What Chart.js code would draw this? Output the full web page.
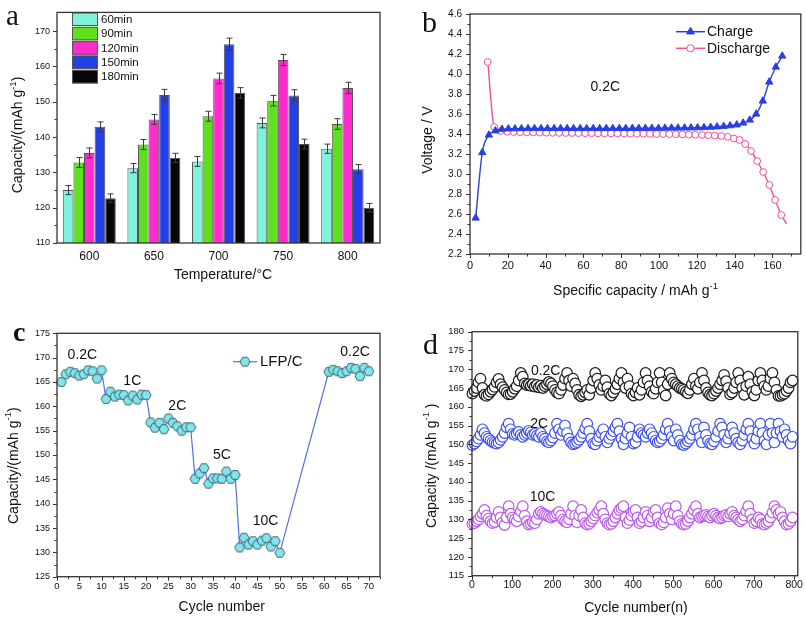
<!DOCTYPE html>
<html><head><meta charset="utf-8">
<script src="https://cdn.jsdelivr.net/npm/chart.js@4.4.1/dist/chart.umd.min.js"></script>
<style>
html,body{margin:0;padding:0;background:#fff;}
#wrap{position:relative;width:806px;height:618px;overflow:hidden;background:#fff;}
canvas{position:absolute;}
</style></head><body>
<div id="wrap">
<canvas id="ca" width="403" height="309" style="left:0;top:0"></canvas>
<canvas id="cb" width="403" height="309" style="left:403px;top:0"></canvas>
<canvas id="cc" width="403" height="309" style="left:0;top:309px"></canvas>
<canvas id="cd" width="403" height="309" style="left:403px;top:309px"></canvas>
</div>
<script>
// ---------------- Panel a data ----------------
const tempLabels = ['600', '650', '700', '750', '800'];
const timeLabels = ['60min', '90min', '120min', '150min', '180min'];
const cap60 = [125.0, 131.2, 133.1, 144.0, 136.7];
const cap90 = [132.8, 137.9, 145.9, 150.3, 143.7];
const cap120 = [135.5, 145.0, 156.6, 161.8, 153.9];
const cap150 = [142.9, 151.9, 166.3, 151.8, 130.9];
const cap180 = [122.7, 134.1, 152.5, 138.0, 120.0];
const err60 = [1.3, 1.3, 1.4, 1.4, 1.3];
const err90 = [1.4, 1.4, 1.4, 1.5, 1.5];
const err120 = [1.4, 1.4, 1.5, 1.6, 1.6];
const err150 = [1.4, 1.6, 1.7, 1.6, 1.3];
const err180 = [1.2, 1.3, 1.5, 1.4, 1.2];
const aYTicks = [110, 120, 130, 140, 150, 160, 170];
const aYMinor = [115, 125, 135, 145, 155, 165];

// ---------------- Panel b data ----------------
const chargeCap = [3.0,6.5,10.0,13.4,16.9,20.3,23.8,27.2,30.7,34.1,37.6,41.0,44.5,47.9,51.4,54.8,58.3,61.7,65.2,68.6,72.1,75.5,79.0,82.4,85.9,89.3,92.8,96.2,99.7,103.1,106.6,110.0,113.5,116.9,120.4,123.8,127.3,130.7,134.2,137.6,141.1,144.5,148.0,151.4,154.9,158.3,161.8,165.2];
const chargeV = [2.56,3.215,3.39,3.432,3.448,3.452,3.453,3.454,3.455,3.455,3.455,3.455,3.455,3.455,3.455,3.455,3.455,3.455,3.455,3.455,3.456,3.456,3.456,3.456,3.457,3.457,3.457,3.458,3.458,3.459,3.46,3.46,3.461,3.462,3.463,3.465,3.468,3.472,3.477,3.483,3.492,3.51,3.54,3.60,3.73,3.92,4.07,4.18];
const dischargeCap = [9.4,12.8,16.2,19.7,23.1,26.5,30.0,33.4,36.8,40.3,43.7,47.1,50.6,54.0,57.4,60.9,64.3,67.7,71.2,74.6,78.0,81.5,84.9,88.3,91.8,95.2,98.6,102.1,105.5,108.9,112.4,115.8,119.2,122.7,126.1,129.5,133.0,136.4,139.6,142.6,145.6,148.7,151.9,155.1,158.3,161.4,164.7,167.5];
const dischargeV = [4.12,3.47,3.43,3.422,3.42,3.418,3.416,3.415,3.414,3.413,3.412,3.411,3.41,3.41,3.409,3.408,3.408,3.407,3.406,3.406,3.405,3.405,3.404,3.403,3.402,3.401,3.40,3.40,3.399,3.398,3.396,3.394,3.392,3.39,3.387,3.384,3.38,3.372,3.355,3.34,3.30,3.23,3.13,3.02,2.89,2.74,2.59,2.50];
const bXTicks = [0, 20, 40, 60, 80, 100, 120, 140, 160];
const bXMinor = [10, 30, 50, 70, 90, 110, 130, 150, 170];
const bYTicks = [2.2, 2.4, 2.6, 2.8, 3.0, 3.2, 3.4, 3.6, 3.8, 4.0, 4.2, 4.4, 4.6];
const bYMinor = [2.3, 2.5, 2.7, 2.9, 3.1, 3.3, 3.5, 3.7, 3.9, 4.1, 4.3, 4.5];

// ---------------- Panel c data ----------------
const rateCycles = [1,2,3,4,5,6,7,8,9,10,11,12,13,14,15,16,17,18,19,20,21,22,23,24,25,26,27,28,29,30,31,32,33,34,35,36,37,38,39,40,41,42,43,44,45,46,47,48,49,50,61,62,63,64,65,66,67,68,69,70];
const rateCap = [165.0,166.6,167.1,166.8,166.3,166.6,167.4,167.2,165.7,167.4,
                 161.5,163.0,162.0,162.4,162.3,161.2,162.2,161.4,162.4,162.3,
                 156.7,155.6,156.6,155.3,157.5,156.6,155.9,155.0,155.7,155.7,
                 145.1,146.2,147.3,144.1,145.2,145.2,145.1,146.6,145.1,145.9,
                 131.0,133.0,131.6,132.3,131.6,132.4,132.9,131.2,132.3,129.9,
                 167.1,167.5,167.2,166.8,167.2,167.9,167.7,166.2,167.9,167.2];
const rateNames = ['0.2C', '1C', '2C', '5C', '10C', '0.2C'];
const cXTicks = [0,5,10,15,20,25,30,35,40,45,50,55,60,65,70];
const cXMinor = [2.5,7.5,12.5,17.5,22.5,27.5,32.5,37.5,42.5,47.5,52.5,57.5,62.5,67.5,72.5];
const cYTicks = [125,130,135,140,145,150,155,160,165,170,175];
const cYMinor = [127.5,132.5,137.5,142.5,147.5,152.5,157.5,162.5,167.5,172.5];

// ---------------- Panel d data ----------------
const cyclesD = [1,6,11,16,21,26,31,36,41,46,51,56,61,66,71,76,81,86,91,96,
  101,106,111,116,121,126,131,136,141,146,151,156,161,166,171,176,181,186,191,196,
  201,206,211,216,221,226,231,236,241,246,251,256,261,266,271,276,281,286,291,296,
  301,306,311,316,321,326,331,336,341,346,351,356,361,366,371,376,381,386,391,396,
  401,406,411,416,421,426,431,436,441,446,451,456,461,466,471,476,481,486,491,496,
  501,506,511,516,521,526,531,536,541,546,551,556,561,566,571,576,581,586,591,596,
  601,606,611,616,621,626,631,636,641,646,651,656,661,666,671,676,681,686,691,696,
  701,706,711,716,721,726,731,736,741,746,751,756,761,766,771,776,781,786,791,796];
const cap02C = [163.5,164.2,165.0,166.5,167.5,165.0,163.2,162.9,163.3,164.0,164.6,165.3,166.5,167.4,166.0,165.2,164.5,163.8,163.3,163.4,
  164.0,164.8,165.5,167.0,169.0,168.0,166.2,165.8,166.0,165.6,166.0,165.4,165.8,165.2,165.6,165.0,165.5,166.0,166.6,166.2,
  165.5,164.5,163.8,163.5,164.5,165.8,167.5,169.0,167.0,165.5,167.5,166.2,164.5,163.2,162.8,163.2,163.8,164.5,163.2,165.0,
  167.0,169.0,167.5,165.8,164.5,165.5,167.0,165.2,163.5,163.0,163.8,164.8,166.0,167.5,169.0,166.5,165.0,167.5,165.5,163.5,
  163.0,163.8,165.0,163.2,164.5,166.5,169.0,167.0,165.5,164.0,163.5,164.8,166.5,169.0,166.5,164.5,163.0,166.0,169.0,167.5,
  166.5,166.0,165.5,165.0,164.8,164.5,164.0,163.6,164.5,166.0,167.5,165.5,164.8,166.5,169.0,167.0,165.0,163.8,163.2,163.0,
  163.5,164.2,165.0,166.0,167.0,168.5,166.8,165.0,163.3,163.8,165.0,166.5,169.0,167.0,165.0,163.2,165.5,168.0,166.0,164.0,
  163.0,164.5,167.0,169.0,167.0,165.5,164.5,165.5,167.5,169.0,166.5,164.5,162.9,162.9,163.2,163.5,164.2,165.0,166.5,167.0];
const cap2C = [149.8,150.2,150.8,151.5,152.5,154.0,153.0,152.0,151.5,151.0,150.6,150.4,150.2,150.5,151.2,152.0,153.0,154.5,155.5,154.0,
  152.8,152.5,152.8,153.3,152.5,152.0,152.5,153.0,153.6,153.2,152.5,152.8,152.3,152.0,153.0,152.0,151.5,150.8,150.5,151.0,
  151.8,153.0,155.5,154.0,152.5,153.5,155.0,153.0,151.5,150.5,150.0,150.2,150.6,151.2,152.0,153.0,154.2,155.5,153.5,151.5,
  150.2,150.0,151.0,152.0,153.0,154.0,152.0,150.5,151.5,152.5,153.5,154.5,155.5,153.5,151.5,150.0,151.5,153.0,154.5,152.0,
  150.2,150.5,152.0,154.0,153.0,152.5,152.0,153.0,154.0,153.0,152.0,151.0,150.5,150.8,151.5,152.5,154.0,155.5,153.5,152.0,
  151.0,154.0,152.5,151.0,150.0,149.8,150.2,150.8,151.5,152.5,154.0,155.5,154.0,152.0,150.5,154.5,152.5,151.0,150.2,150.0,
  150.8,152.0,153.5,155.5,154.5,152.5,150.5,151.5,153.0,154.5,153.0,151.5,150.5,150.0,151.0,152.5,154.0,155.5,153.5,151.5,
  150.2,151.5,153.5,155.5,153.0,151.0,150.0,152.5,155.5,153.0,150.5,153.0,155.5,153.5,152.0,154.0,152.5,151.0,150.2,152.0];
const cap10C = [128.8,129.0,129.5,130.0,130.8,131.5,132.5,131.0,130.2,129.5,129.0,129.3,130.5,132.0,130.5,129.2,128.5,130.5,133.5,131.5,
  130.5,130.0,129.5,130.8,132.2,133.5,131.0,129.5,128.6,128.8,129.2,129.0,130.0,131.5,132.0,131.5,131.2,131.0,130.8,130.5,
  130.8,131.0,131.5,132.0,131.0,130.0,129.5,129.2,130.0,131.5,133.5,131.0,129.2,131.0,132.5,130.5,129.0,128.6,128.8,129.5,
  130.2,131.0,131.8,132.5,133.5,131.5,130.0,129.0,128.6,128.8,129.5,130.5,131.5,132.5,133.0,133.5,130.5,129.0,129.8,131.0,
  132.0,132.5,130.5,129.0,129.5,130.5,132.0,131.0,129.5,130.5,132.0,132.5,130.5,129.0,128.6,129.2,130.5,133.0,131.5,130.0,
  131.5,133.5,131.0,129.5,128.8,128.6,128.8,129.5,130.5,131.5,132.5,133.5,131.5,130.5,130.8,131.0,131.2,130.8,130.5,131.0,
  131.5,131.0,130.5,130.2,130.5,131.0,131.2,130.8,131.5,132.0,131.0,130.5,130.0,129.5,130.0,131.0,132.2,133.5,131.5,130.0,
  129.0,129.5,130.5,130.0,128.8,128.6,129.0,129.5,130.5,131.8,133.5,132.5,131.5,132.0,130.5,129.5,128.6,128.8,129.5,130.5];
const cycleRates = ['0.2C', '2C', '10C'];
const dXTicks = [0,100,200,300,400,500,600,700,800];
const dXMinor = [50,150,250,350,450,550,650,750];
const dYTicks = [115,120,125,130,135,140,145,150,155,160,165,170,175,180];
const dYMinor = [117.5,122.5,127.5,132.5,137.5,142.5,147.5,152.5,157.5,162.5,167.5,172.5,177.5];

// ---------------- helpers ----------------
const SANS = '"Liberation Sans", Arial, Helvetica, sans-serif';
const SERIF = '"Liberation Serif", "Times New Roman", serif';
Chart.defaults.font.family = SANS;
Chart.defaults.color = '#111';
Chart.defaults.animation = false;
const AXIS = '#333';

function zip(xs, ys) { const n = Math.min(xs.length, ys.length); const out = []; for (let i = 0; i < n; i++) out.push({x: xs[i], y: ys[i]}); return out; }

function drawRich(ctx, it) {
  const size = it.size || 14, fam = it.family || SANS, wt = it.weight || 'normal';
  ctx.save();
  ctx.translate(it.x, it.y);
  if (it.rot) ctx.rotate(it.rot);
  ctx.fillStyle = it.color || '#111';
  ctx.textBaseline = it.baseline || 'middle';
  ctx.textAlign = 'left';
  const fontFor = sup => `${wt} ${sup ? size * 0.68 : size}px ${fam}`;
  const widths = it.parts.map(p => { const sup = p[0] === '^'; ctx.font = fontFor(sup); return ctx.measureText(sup ? p.slice(1) : p).width; });
  const total = widths.reduce((a, b) => a + b, 0);
  let cx = it.align === 'left' ? 0 : -total / 2;
  it.parts.forEach((p, i) => { const sup = p[0] === '^'; ctx.font = fontFor(sup); ctx.fillText(sup ? p.slice(1) : p, cx, sup ? -size * 0.38 : 0); cx += widths[i]; });
  ctx.restore();
}

function textPlugin(items) {
  return { id: 'texts', afterDraw(chart) {
    items.forEach(it => {
      const o = Object.assign({}, it);
      if (it.data) { o.x = chart.scales.x.getPixelForValue(it.data[0]); o.y = chart.scales.y.getPixelForValue(it.data[1]); }
      drawRich(chart.ctx, o);
    });
  }};
}

function framePlugin(t) {
  return { id: 'frame', afterDraw(chart) {
    const {ctx, chartArea: a} = chart;
    ctx.save();
    ctx.strokeStyle = AXIS; ctx.lineWidth = 1.3;
    ctx.strokeRect(a.left, a.top, a.right - a.left, a.bottom - a.top);
    ctx.lineWidth = 1;
    const dt = (axis, vals, len) => {
      const s = chart.scales[axis]; if (!s || !vals) return;
      ctx.beginPath();
      vals.forEach(v => { const p = Math.round(s.getPixelForValue(v)) + 0.5;
        if (axis === 'x') { ctx.moveTo(p, a.bottom); ctx.lineTo(p, a.bottom + len); }
        else { ctx.moveTo(a.left, p); ctx.lineTo(a.left - len, p); } });
      ctx.stroke();
    };
    dt('x', t.xMajor, 4); dt('x', t.xMinor, 2.5); dt('y', t.yMajor, 4); dt('y', t.yMinor, 2.5);
    ctx.restore();
  }};
}

function fixTicks(vals) { return s => { s.ticks = vals.map(v => ({value: v})); }; }
function fixW(w) { return s => { s.width = w; }; }
function fixH(h) { return s => { s.height = h; }; }
const noGrid = {display: false, drawTicks: false};
const noBorder = {display: false};

// ---------------- Panel a ----------------
const aColors = ['#7ff2da', '#5fe01e', '#ff2ccc', '#2340e6', '#060606'];
const aErrors = [err60, err90, err120, err150, err180];
const errorBarPlugin = { id: 'errbars', afterDatasetsDraw(chart) {
  const ctx = chart.ctx, y = chart.scales.y;
  ctx.save(); ctx.strokeStyle = '#3a3a3a'; ctx.lineWidth = 1;
  chart.data.datasets.forEach((ds, i) => {
    chart.getDatasetMeta(i).data.forEach((bar, j) => {
      const v = ds.data[j], e = aErrors[i][j];
      const yt = y.getPixelForValue(v + e), yb = y.getPixelForValue(v - e), x = Math.round(bar.x) + 0.5;
      ctx.beginPath();
      ctx.moveTo(x, yt); ctx.lineTo(x, yb);
      ctx.moveTo(x - 3, yt); ctx.lineTo(x + 3, yt);
      ctx.moveTo(x - 3, yb); ctx.lineTo(x + 3, yb);
      ctx.stroke();
    });
  });
  ctx.restore();
}};
const barLegendPlugin = { id: 'barlegend', afterDraw(chart) {
  const ctx = chart.ctx; ctx.save();
  chart.data.datasets.forEach((ds, i) => {
    const x = 72, y = 12.5 + i * 14.35, w = 26, h = 13.5;
    ctx.fillStyle = ds.backgroundColor; ctx.fillRect(x, y, w, h);
    ctx.strokeStyle = '#555'; ctx.lineWidth = 1; ctx.strokeRect(x + 0.5, y + 0.5, w - 1, h - 1);
    ctx.fillStyle = '#111'; ctx.font = `11.5px ${SANS}`; ctx.textBaseline = 'middle'; ctx.textAlign = 'left';
    ctx.fillText(ds.label, x + w + 3, y + h / 2 + 0.5);
  });
  ctx.restore();
}};
new Chart(document.getElementById('ca'), {
  type: 'bar',
  data: { labels: tempLabels, datasets: [cap60, cap90, cap120, cap150, cap180].map((s, i) => ({
    label: timeLabels[i], data: s, backgroundColor: aColors[i], borderColor: '#555', borderWidth: 1,
    categoryPercentage: 0.82, barPercentage: 1.0 })) },
  options: {
    responsive: false, devicePixelRatio: 1, animation: false,
    layout: { padding: { left: 0, top: 5, right: 23, bottom: 36 } },
    plugins: { legend: { display: false }, tooltip: { enabled: false } },
    scales: {
      x: { grid: noGrid, border: noBorder, ticks: { font: { size: 12 }, padding: 6, color: '#111' }, afterFit: fixH(30) },
      y: { min: 110, max: 175.3, afterBuildTicks: fixTicks(aYTicks), grid: noGrid, border: noBorder,
           ticks: { font: { size: 9 }, padding: 7, color: '#111' }, afterFit: fixW(57) }
    }
  },
  plugins: [errorBarPlugin, barLegendPlugin, framePlugin({ yMajor: aYTicks, yMinor: aYMinor }), textPlugin([
    { parts: ['a'], x: 6, y: 25, size: 29, family: SERIF, align: 'left', baseline: 'alphabetic' },
    { parts: ['Capacity/(mAh g', '^-1', ')'], x: 18.5, y: 135, size: 14, rot: -Math.PI / 2 },
    { parts: ['Temperature/°C'], x: 223, y: 275, size: 14 }
  ])]
});

// ---------------- Panel b ----------------
const BLUE = '#2a3fe2', PINK = '#ef4f9c';
const lineLegendB = { id: 'llegb', afterDraw(chart) {
  const ctx = chart.ctx; ctx.save();
  chart.data.datasets.forEach((ds, i) => {
    const y = 31.7 + i * 16.6, x1 = 273, x2 = 302;
    ctx.strokeStyle = ds.borderColor; ctx.lineWidth = 1.5;
    ctx.beginPath(); ctx.moveTo(x1, y); ctx.lineTo(x2, y); ctx.stroke();
    ctx.fillStyle = ds.pointBackgroundColor; ctx.strokeStyle = ds.borderColor; ctx.lineWidth = 1;
    Chart.helpers.drawPoint(ctx, { pointStyle: ds.pointStyle, radius: i === 0 ? 4.5 : 3.6, borderWidth: 1, rotation: 0 }, (x1 + x2) / 2, y);
    ctx.fillStyle = '#111'; ctx.font = `14px ${SANS}`; ctx.textBaseline = 'middle'; ctx.textAlign = 'left';
    ctx.fillText(ds.label, x2 + 2, y + 0.5);
  });
  ctx.restore();
}};
new Chart(document.getElementById('cb'), {
  type: 'scatter',
  data: { datasets: [
    { label: 'Charge', data: zip(chargeCap, chargeV), showLine: true, borderColor: BLUE, backgroundColor: BLUE,
      pointBackgroundColor: BLUE, pointBorderColor: BLUE, pointStyle: 'triangle', pointRadius: 4.2, pointBorderWidth: 1,
      borderWidth: 1.4, cubicInterpolationMode: 'monotone', clip: false },
    { label: 'Discharge', data: zip(dischargeCap, dischargeV), showLine: true, borderColor: PINK, backgroundColor: '#fff',
      pointBackgroundColor: '#fff', pointBorderColor: PINK, pointStyle: 'circle',
      pointRadius: c => (c.dataIndex === dischargeCap.length - 1 ? 0 : 3.4), pointBorderWidth: 1,
      borderWidth: 1.4, cubicInterpolationMode: 'monotone', clip: false }
  ]},
  options: {
    responsive: false, devicePixelRatio: 1, animation: false,
    layout: { padding: { left: 0, top: 6, right: 3, bottom: 25 } },
    plugins: { legend: { display: false }, tooltip: { enabled: false } },
    scales: {
      x: { type: 'linear', min: 0, max: 175, afterBuildTicks: fixTicks(bXTicks), grid: noGrid, border: noBorder,
           ticks: { font: { size: 11 }, padding: 5, color: '#111' }, afterFit: fixH(30) },
      y: { type: 'linear', min: 2.2, max: 4.6, afterBuildTicks: fixTicks(bYTicks), grid: noGrid, border: noBorder,
           ticks: { font: { size: 10 }, padding: 8, color: '#111', callback: v => Number(v).toFixed(1) }, afterFit: fixW(67) }
    }
  },
  plugins: [lineLegendB, framePlugin({ xMajor: bXTicks, xMinor: bXMinor, yMajor: bYTicks, yMinor: bYMinor }), textPlugin([
    { parts: ['b'], x: 19, y: 31.7, size: 30, family: SERIF, align: 'left', baseline: 'alphabetic' },
    { parts: ['0.2C'], data: [71.6, 3.867], size: 14 },
    { parts: ['Voltage / V'], x: 25, y: 140, size: 14, rot: -Math.PI / 2 },
    { parts: ['Specific capacity / mAh g', '^-1'], x: 232.5, y: 291.5, size: 14 }
  ])]
});

// ---------------- Panel c ----------------
function makeHex(r, fill, stroke) {
  const s = Math.ceil(r * 2 + 2), c = document.createElement('canvas'); c.width = s; c.height = s;
  const g = c.getContext('2d'); g.beginPath();
  for (let k = 0; k < 6; k++) { const a = Math.PI / 3 * k; const px = s / 2 + r * Math.cos(a), py = s / 2 + r * Math.sin(a); if (k) g.lineTo(px, py); else g.moveTo(px, py); }
  g.closePath(); g.fillStyle = fill; g.fill(); g.strokeStyle = stroke; g.lineWidth = 1; g.stroke();
  return c;
}
const hexImg = makeHex(5, '#7fe6ee', '#40616a');
const CLINE = '#5271e4';
const lineLegendC = { id: 'llegc', afterDraw(chart) {
  const ctx = chart.ctx, ds = chart.data.datasets[0]; ctx.save();
  const y = 52.7, x1 = 233, x2 = 257;
  ctx.strokeStyle = CLINE; ctx.lineWidth = 1.2; ctx.beginPath(); ctx.moveTo(x1, y); ctx.lineTo(x2, y); ctx.stroke();
  Chart.helpers.drawPoint(ctx, { pointStyle: hexImg, radius: 5, borderWidth: 1, rotation: 0 }, (x1 + x2) / 2, y);
  ctx.fillStyle = '#111'; ctx.font = `15px ${SANS}`; ctx.textBaseline = 'middle'; ctx.textAlign = 'left';
  ctx.fillText(ds.label, 260, y + 0.5);
  ctx.restore();
}};
new Chart(document.getElementById('cc'), {
  type: 'scatter',
  data: { datasets: [
    { label: 'LFP/C', data: zip(rateCycles, rateCap), showLine: true, borderColor: CLINE, borderWidth: 1.2,
      pointStyle: hexImg, pointRadius: 5, tension: 0, clip: false }
  ]},
  options: {
    responsive: false, devicePixelRatio: 1, animation: false,
    layout: { padding: { left: 0, top: 24.3, right: 23, bottom: 16.3 } },
    plugins: { legend: { display: false }, tooltip: { enabled: false } },
    scales: {
      x: { type: 'linear', min: 0, max: 72.5, afterBuildTicks: fixTicks(cXTicks), grid: noGrid, border: noBorder,
           ticks: { font: { size: 9.5 }, padding: 4, color: '#111' }, afterFit: fixH(25) },
      y: { type: 'linear', min: 125, max: 175, afterBuildTicks: fixTicks(cYTicks), grid: noGrid, border: noBorder,
           ticks: { font: { size: 9 }, padding: 7, color: '#111' }, afterFit: fixW(57) }
    }
  },
  plugins: [lineLegendC, framePlugin({ xMajor: cXTicks, xMinor: cXMinor, yMajor: cYTicks, yMinor: cYMinor }), textPlugin([
    { parts: ['c'], x: 13, y: 31.7, size: 28, family: SERIF, weight: 'bold', align: 'left', baseline: 'alphabetic' },
    { parts: [rateNames[0]], data: [5.7, 170.5], size: 14 },
    { parts: [rateNames[1]], data: [16.9, 165.1], size: 14 },
    { parts: [rateNames[2]], data: [27.0, 160.0], size: 14 },
    { parts: [rateNames[3]], data: [37.0, 149.9], size: 14 },
    { parts: [rateNames[4]], data: [46.8, 136.5], size: 14 },
    { parts: [rateNames[5]], data: [66.9, 171.1], size: 14 },
    { parts: ['Capacity/(mAh g', '^-1', ')'], x: 14, y: 156.7, size: 14, rot: -Math.PI / 2 },
    { parts: ['Cycle number'], x: 221.7, y: 298.3, size: 14 }
  ])]
});

// ---------------- Panel d ----------------
const dColors = ['#1c1c1c', '#3b4cf0', '#bb5ae8'];
new Chart(document.getElementById('cd'), {
  type: 'scatter',
  data: { datasets: [cap02C, cap2C, cap10C].map((s, i) => ({
    label: cycleRates[i], data: zip(cyclesD, s), showLine: false, pointStyle: 'circle', pointRadius: 5.3,
    pointBorderWidth: 1.2, pointBackgroundColor: '#fff', pointBorderColor: dColors[i], borderColor: dColors[i], clip: false, order: i })) },
  options: {
    responsive: false, devicePixelRatio: 1, animation: false,
    layout: { padding: { left: 0, top: 22.7, right: 6, bottom: 17.3 } },
    plugins: { legend: { display: false }, tooltip: { enabled: false } },
    scales: {
      x: { type: 'linear', min: 0, max: 809, afterBuildTicks: fixTicks(dXTicks), grid: noGrid, border: noBorder,
           ticks: { font: { size: 10.5 }, padding: 3, color: '#111' }, afterFit: fixH(25) },
      y: { type: 'linear', min: 115, max: 180, afterBuildTicks: fixTicks(dYTicks), grid: noGrid, border: noBorder,
           ticks: { font: { size: 9.5 }, padding: 8, color: '#111' }, afterFit: fixW(69) }
    }
  },
  plugins: [framePlugin({ xMajor: dXTicks, xMinor: dXMinor, yMajor: dYTicks, yMinor: dYMinor }), textPlugin([
    { parts: ['d'], x: 20, y: 45, size: 30, family: SERIF, align: 'left', baseline: 'alphabetic' },
    { parts: [cycleRates[0]], data: [183, 169.4], size: 14 },
    { parts: [cycleRates[1]], data: [167, 155.4], size: 14 },
    { parts: [cycleRates[2]], data: [175, 136.0], size: 14 },
    { parts: ['Capacity /(mAh g', '^-1', ' )'], x: 29, y: 156.7, size: 14, rot: -Math.PI / 2 },
    { parts: ['Cycle number(n)'], x: 233, y: 299, size: 14 }
  ])]
});
</script>
</body></html>
